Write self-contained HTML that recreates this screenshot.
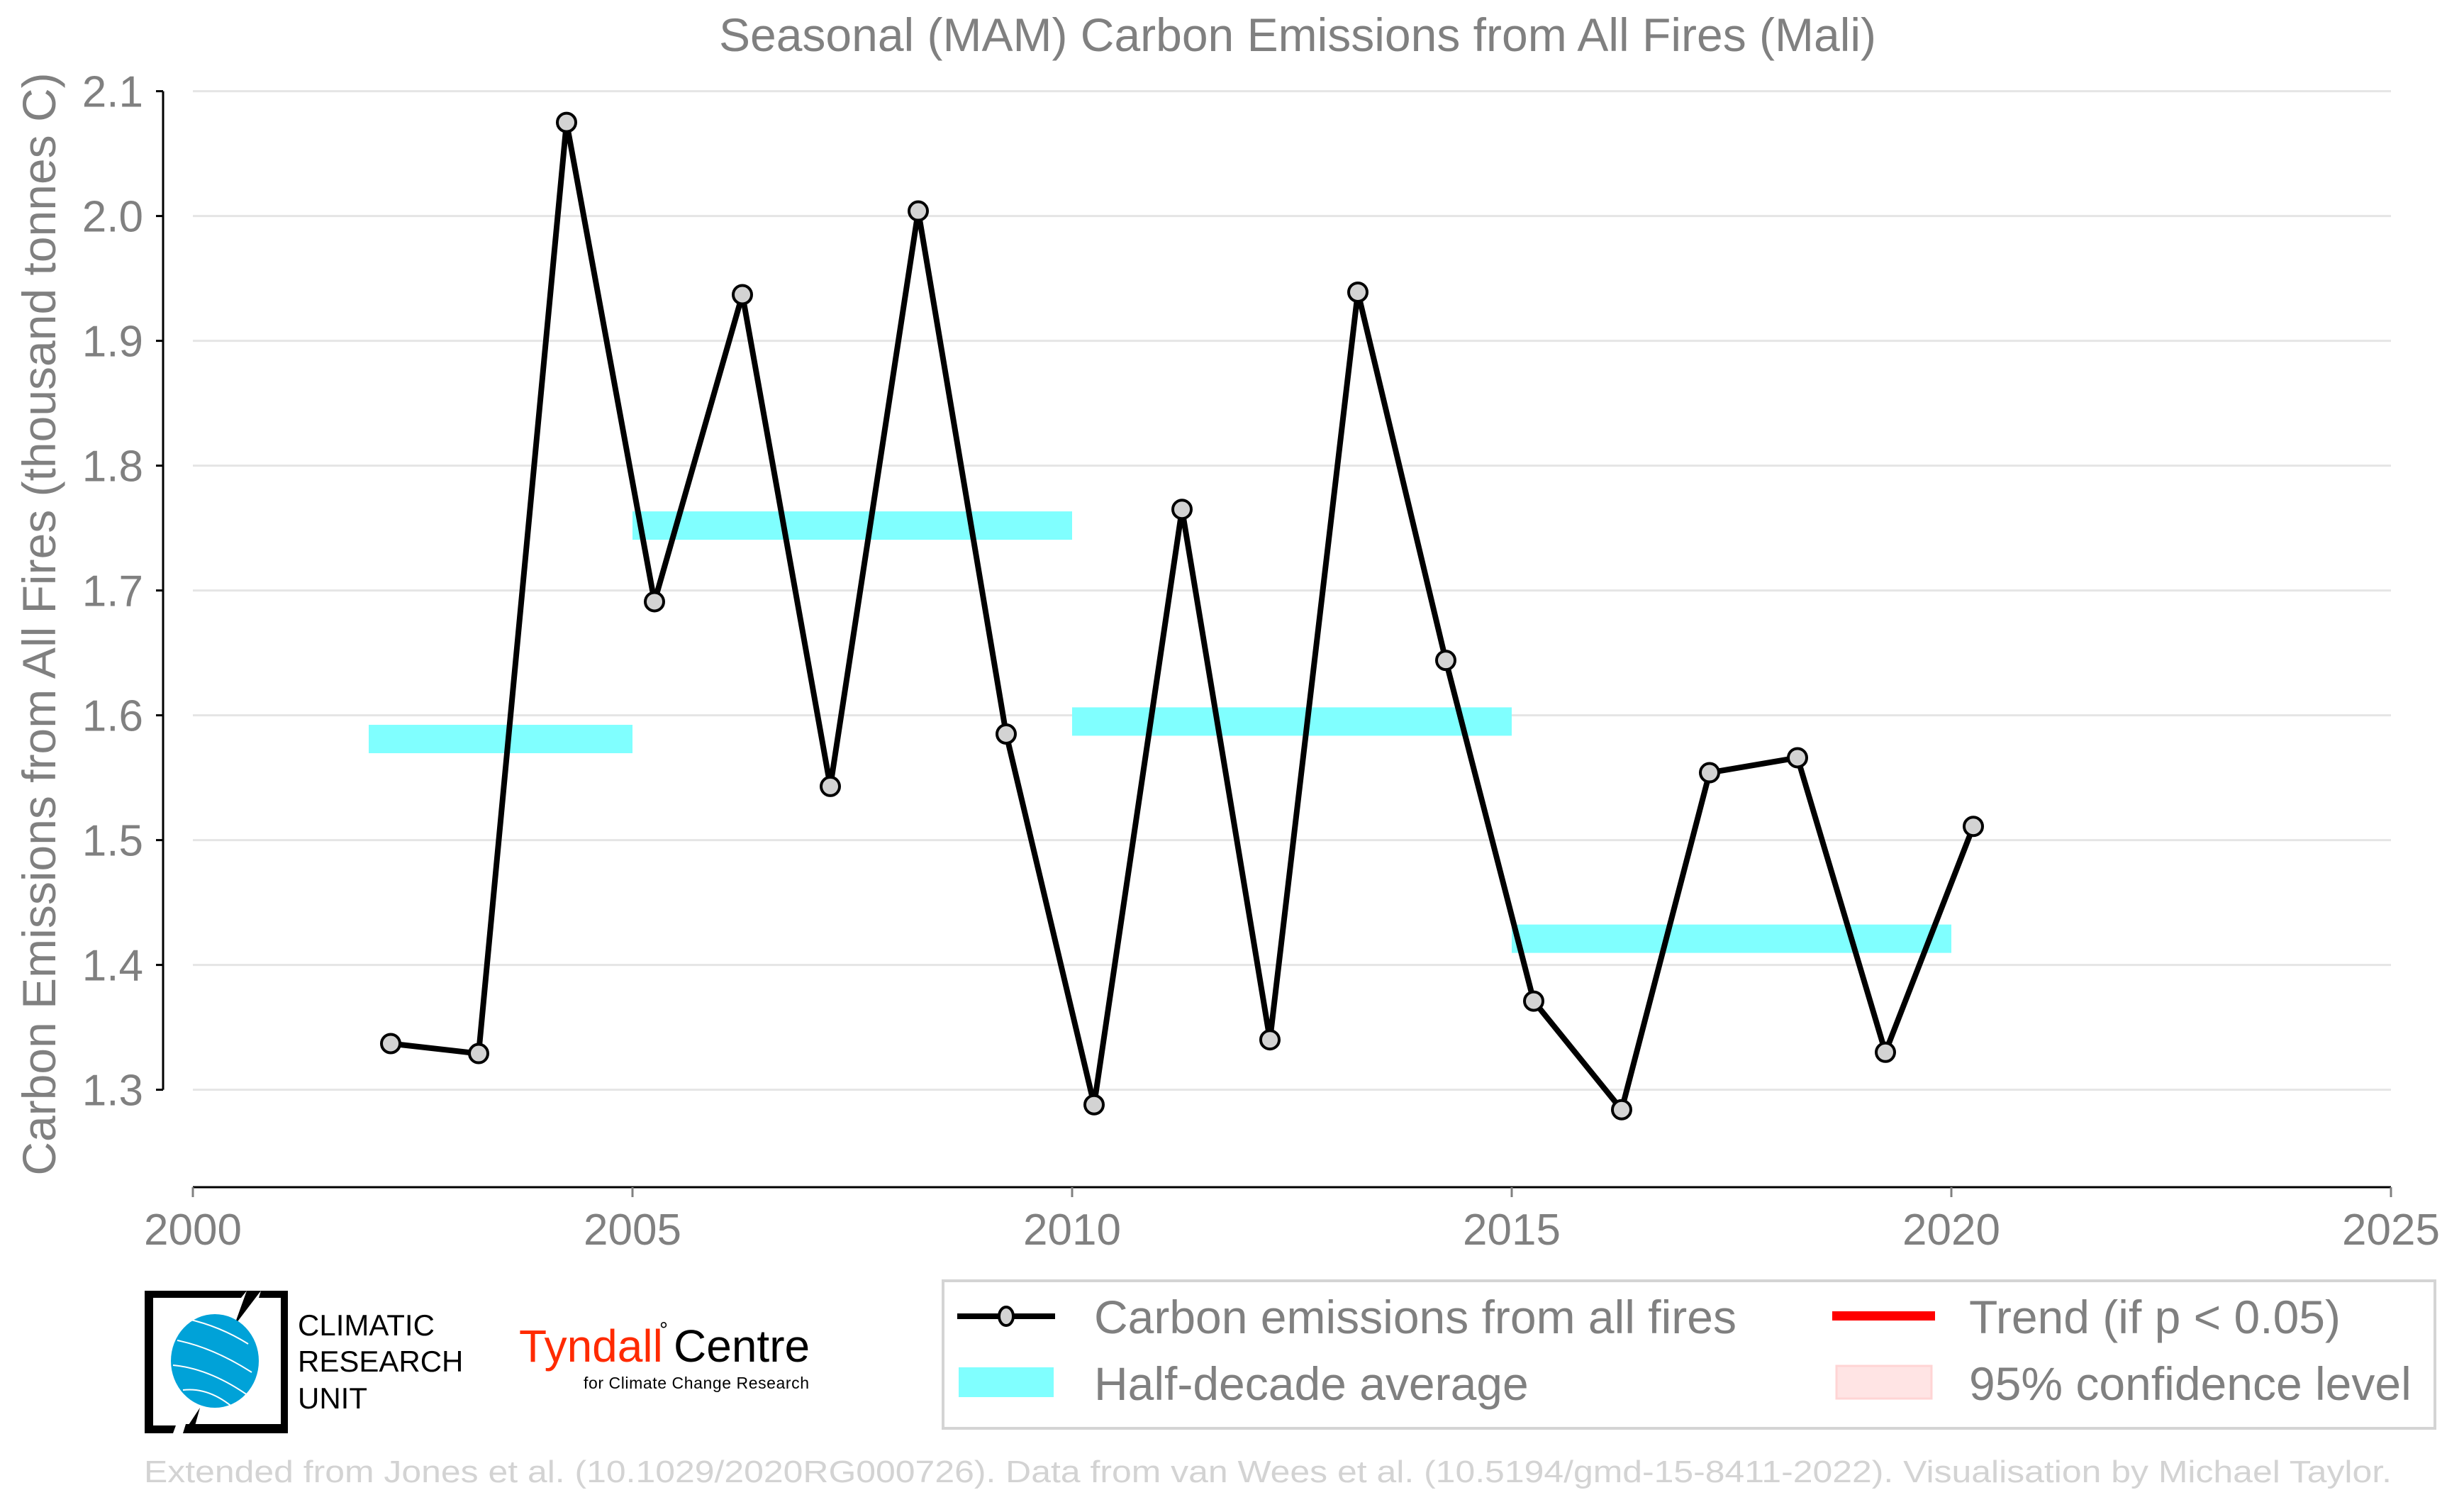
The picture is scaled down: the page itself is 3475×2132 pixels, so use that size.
<!DOCTYPE html>
<html><head><meta charset="utf-8"><style>
html,body{margin:0;padding:0;background:#fff}
svg{display:block;font-family:"Liberation Sans",sans-serif}
</style></head><body>
<svg id="chart" width="3475" height="2132" viewBox="0 0 3475 2132" xmlns="http://www.w3.org/2000/svg">
<rect width="3475" height="2132" fill="#fff"/>
<text x="1830" y="72" text-anchor="middle" font-size="66" fill="#808080">Seasonal (MAM) Carbon Emissions from All Fires (Mali)</text>
<g id="grid"></g>
<g id="bands"></g>
<g id="axes"></g>
<g id="series"></g>
<text transform="translate(78,880) rotate(-90)" text-anchor="middle" font-size="66" fill="#808080">Carbon Emissions from All Fires (thousand tonnes C)</text>

<g>
<rect x="1330" y="1806" width="2104" height="208" fill="#fff" stroke="#d4d4d4" stroke-width="4"/>
<g>
<line x1="1350" y1="1856" x2="1488" y2="1856" stroke="#000" stroke-width="8"/>
<ellipse cx="1419" cy="1856" rx="10" ry="13" fill="#d3d3d3" stroke="#000" stroke-width="4"/>
<text x="1543" y="1880" font-size="66" fill="#808080">Carbon emissions from all fires</text></g>
<g>
<rect x="2584" y="1849" width="145" height="13" fill="#ff0000"/>
<text x="2777" y="1880" font-size="66" fill="#808080">Trend (if p &lt; 0.05)</text></g>
<g>
<rect x="1352" y="1928" width="134" height="42" fill="#80ffff"/>
<text x="1543" y="1974" font-size="66" fill="#808080">Half-decade average</text></g>
<g>
<rect x="2590" y="1926" width="134" height="46" fill="#ffe4e4" stroke="#ffd4d4" stroke-width="3"/>
<text x="2777" y="1974" font-size="66" fill="#808080">95% confidence level</text></g>
</g>

<g>
<path d="M204,1820 H348 L340,1830 H216 V2010 H248 L244,2021 H204 Z" fill="#000"/>
<path d="M368,1820 H406 V2021 H258 L262,2008 H396 V1830 H365 Z" fill="#000"/>
<path d="M348,1820 L368,1820 L330,1870 Z" fill="#000"/>
<path d="M282,1985 L258,2021 L272,2021 Z" fill="#000"/>
<ellipse cx="303" cy="1919" rx="62" ry="66" fill="#00a2d8"/>
<path d="M250,1890 Q300,1900 355,1935 M244,1925 Q300,1930 360,1975 M258,1960 Q300,1955 340,1995 M265,1860 Q310,1870 350,1895" stroke="#fff" stroke-width="2" fill="none"/>
<text x="420" y="1883" font-size="42" fill="#000">CLIMATIC</text>
<text x="420" y="1934" font-size="42" fill="#000">RESEARCH</text>
<text x="420" y="1986" font-size="42" fill="#000">UNIT</text>
</g>
<g>
<text x="732" y="1920" font-size="64" fill="#ff2a00">Tyndall</text>
<text x="930" y="1885" font-size="30" fill="#000">°</text>
<text x="950" y="1920" font-size="64" fill="#000">Centre</text>
<text x="823" y="1958" font-size="23" fill="#000" textLength="318">for Climate Change Research</text>
</g>
<text x="203" y="2090" font-size="44" fill="#d3d3d3" textLength="3170" lengthAdjust="spacingAndGlyphs">Extended from Jones et al. (10.1029/2020RG000726). Data from van Wees et al. (10.5194/gmd-15-8411-2022). Visualisation by Michael Taylor.</text>

<script>
const years = [2002,2003,2004,2005,2006,2007,2008,2009,2010,2011,2012,2013,2014,2015,2016,2017,2018,2019,2020];
const emissions = [1.337,1.329,2.075,1.691,1.937,1.543,2.004,1.585,1.288,1.765,1.340,1.939,1.644,1.371,1.284,1.554,1.566,1.330,1.511];
const bandStarts = [2002,2005,2010,2015];
const bandEnds = [2005,2010,2015,2020];
const bandValues = [1.581,1.752,1.595,1.421];
const yTicks = [1.3,1.4,1.5,1.6,1.7,1.8,1.9,2.0,2.1];
const xTicks = [2000,2005,2010,2015,2020,2025];

const NS = "http://www.w3.org/2000/svg";
const xs = v => 272 + (v - 2000) * 124;
const ys = v => 128.6 + (2.1 - v) * 1760;
function mk(tag, attrs, parent) {
  const e = document.createElementNS(NS, tag);
  for (const k in attrs) e.setAttribute(k, attrs[k]);
  parent.appendChild(e);
  return e;
}
const grid = document.getElementById('grid');
const axes = document.getElementById('axes');
const bands = document.getElementById('bands');
const series = document.getElementById('series');

yTicks.forEach(t => {
  const y = ys(t);
  const g = mk('line', {x1: 272, x2: 3372, y1: y, y2: y, stroke: '#e5e5e5', 'stroke-width': 3}, grid);
  
  
  const tk = mk('line', {x1: 220, x2: 230, y1: y, y2: y, stroke: '#000', 'stroke-width': 3}, axes);
  
  
  const lb = mk('text', {x: 202, y: y + 22, 'text-anchor': 'end', 'font-size': 62, fill: '#808080'}, axes);
  lb.textContent = t.toFixed(1);
  
  
});
const ysp = mk('line', {x1: 230, x2: 230, y1: ys(2.1), y2: ys(1.3), stroke: '#000', 'stroke-width': 3}, axes);


const xsp = mk('line', {x1: 272, x2: 3372, y1: 1674, y2: 1674, stroke: '#000', 'stroke-width': 3}, axes);


xTicks.forEach(t => {
  const x = xs(t);
  const tk = mk('line', {x1: x, x2: x, y1: 1674, y2: 1688, stroke: '#808080', 'stroke-width': 3}, axes);
  
  
  const lb = mk('text', {x: x, y: 1755, 'text-anchor': 'middle', 'font-size': 62, fill: '#808080'}, axes);
  lb.textContent = t;
  
  
});

bandValues.forEach((v, i) => {
  const b = mk('rect', {x: xs(bandStarts[i]), width: xs(bandEnds[i]) - xs(bandStarts[i]), y: ys(v) - 20, height: 40, fill: '#80ffff'}, bands);
  
  
});

const pts = years.map((y, i) => xs(y + 0.25) + ',' + ys(emissions[i])).join(' ');
const line = mk('polyline', {points: pts, fill: 'none', stroke: '#000', 'stroke-width': 8, 'stroke-linejoin': 'miter'}, series);


years.forEach((y, i) => {
  const c = mk('circle', {cx: xs(y + 0.25), cy: ys(emissions[i]), r: 13, fill: '#d3d3d3', stroke: '#000', 'stroke-width': 4}, series);
  
  
});
</script>
</svg>
</body></html>
